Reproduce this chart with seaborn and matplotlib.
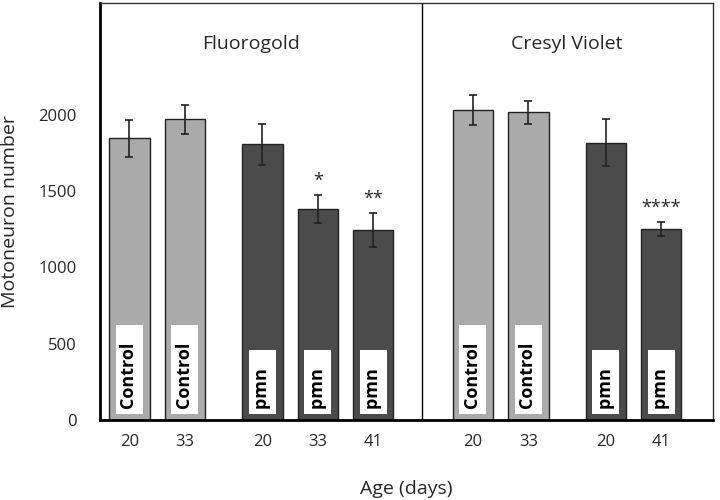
import numpy as np
import pandas as pd
import matplotlib
matplotlib.use('Agg')
import matplotlib.pyplot as plt
import seaborn as sns

# data
stain = ["Fluorogold"] * 5 + ["Cresyl Violet"] * 4
group = ["Control", "Control", "pmn", "pmn", "pmn", "Control", "Control", "pmn", "pmn"]
age = ["20", "33", "20", "33", "41", "20", "33", "20", "41"]
count = [1845, 1970, 1805, 1380, 1245, 2030, 2015, 1815, 1250]
sem = [120, 95, 135, 90, 110, 100, 75, 155, 45]
stars = ["", "", "", "*", "**", "", "", "", "****"]

# bar slots: 1 per bar, extra gap when group / panel changes
pos = []
p = 0.0
for i in range(len(count)):
    if i > 0:
        p += 1
        if stain[i] != stain[i - 1]:
            p += 0.8
        elif group[i] != group[i - 1]:
            p += 0.4
    pos.append(p)

df = pd.DataFrame({"pos": pos, "count": count, "sem": sem, "group": group,
                   "stain": stain, "age": age})

sns.set_style("white")
plt.rcParams['font.family'] = ['Open Sans', 'DejaVu Sans']

f = plt.figure(figsize=(7.2, 5), dpi=100)
ax = f.add_axes([0.139, 0.16, 0.851, 0.834])

pal = {"Control": "#aaaaaa", "pmn": "#4b4b4b"}
sns.barplot(data=df, x="pos", y="count", hue="group", palette=pal,
            native_scale=True, dodge=False, width=0.73, errorbar=None,
            edgecolor="#222222", linewidth=1.0, legend=False, ax=ax)
ax.errorbar(df["pos"], df["count"], yerr=df["sem"], fmt="none",
            ecolor="#222222", elinewidth=1.2, capsize=3, capthick=1.2)

# labels inside bars (white box taller than the word, as in the original)
for x, g in zip(df["pos"], df["group"]):
    ax.text(x, 70, g + "   ", rotation=90, ha="center", va="bottom", fontsize=13,
            fontweight="bold", color="black",
            bbox=dict(boxstyle="square,pad=0.25", fc="white", ec="none"))

# significance stars
for x, c, s, st in zip(df["pos"], df["count"], df["sem"], stars):
    if st:
        ax.text(x, c + s + 35, st, ha="center", va="bottom", fontsize=13)

# panel divider and titles
lo = df["pos"].min() - 0.53
hi = df["pos"].max() + 0.93
div = (df["pos"][4] + df["pos"][5]) / 2 - 0.02
ax.axvline(div, color="black", lw=1.0)
for s in ["Fluorogold", "Cresyl Violet"]:
    sub = df[df["stain"] == s]["pos"]
    ax.text((sub.min() + sub.max()) / 2, 2460, s, ha="center", va="center", fontsize=14)

ax.set_xlim(lo, hi)
ax.set_ylim(0, 2730)
ax.set_xticks(df["pos"])
ax.set_xticklabels(df["age"], fontsize=12)
ax.set_yticks([0, 500, 1000, 1500, 2000])
ax.set_yticklabels(["0", "500", "1000", "1500", "2000"], fontsize=12)
ax.tick_params(axis="both", direction="out", length=5, width=1.2, color="black")
ax.tick_params(axis="y", pad=12)
ax.tick_params(axis="x", pad=5)
ax.set_xlabel("Age (days)", fontsize=14, labelpad=22)
ax.set_ylabel("Motoneuron number", fontsize=14, labelpad=14)

for side in ["left", "bottom"]:
    ax.spines[side].set_linewidth(2.0)
    ax.spines[side].set_color("black")
for side in ["top", "right"]:
    ax.spines[side].set_linewidth(1.0)
    ax.spines[side].set_color("#333333")

f.savefig("out.png", dpi=100)
